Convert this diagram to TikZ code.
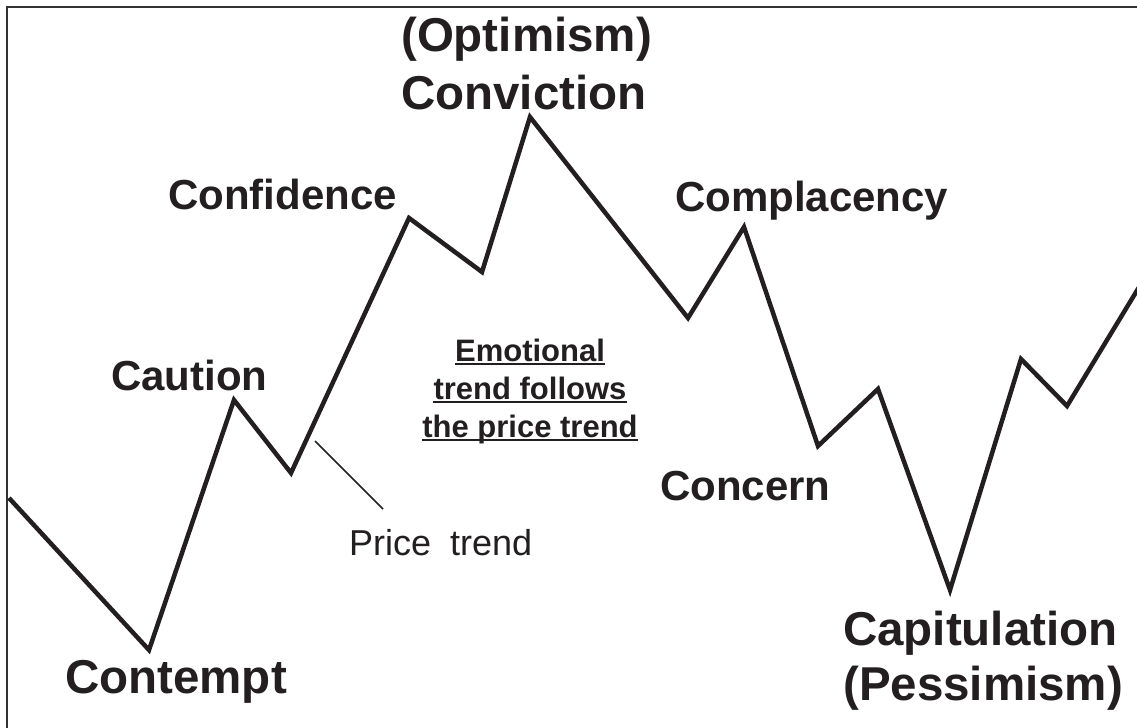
\documentclass[tikz,border=0pt]{standalone}
\usepackage{fontspec}
\setmainfont{Liberation Sans}
\definecolor{ink}{HTML}{231F20}
\definecolor{framegray}{HTML}{333333}
\begin{document}
\begin{tikzpicture}[x=1bp,y=-1bp,
  lblbig/.style={font=\fontsize{47.5bp}{55bp}\selectfont\bfseries, text=ink, inner sep=0pt, anchor=base west},
  lblmid/.style={font=\fontsize{42bp}{50bp}\selectfont\bfseries, text=ink, inner sep=0pt, anchor=base west},
  lblnote/.style={font=\fontsize{31bp}{38bp}\selectfont\bfseries, text=ink, inner sep=0pt, anchor=base},
  lblprice/.style={font=\fontsize{36bp}{42bp}\selectfont, text=ink, inner sep=0pt, anchor=base west},
  trendline/.style={draw=ink, line width=4.5bp, line join=miter, miter limit=10},
  pointer/.style={draw=ink, line width=1.6bp},
  underl/.style={draw=ink, line width=1.6bp},
  frameline/.style={draw=framegray, line width=2bp}]
\useasboundingbox (0,0) rectangle (1137,728);
\clip (0,0) rectangle (1137,728);
\fill[white] (0,0) rectangle (1137,728);
% frame (only top and left edges visible)
\draw[frameline] (7,740) -- (7,7) -- (1150,7);
% price path
\coordinate (p0) at (9,498);
\coordinate (p1) at (149,650);
\coordinate (p2) at (234,400);
\coordinate (p3) at (291,473);
\coordinate (p4) at (409,218);
\coordinate (p5) at (482,272);
\coordinate (p6) at (530,117);
\coordinate (p7) at (688,318);
\coordinate (p8) at (744,227);
\coordinate (p9) at (818,446);
\coordinate (p10) at (878,389);
\coordinate (p11) at (950,590);
\coordinate (p12) at (1021,359);
\coordinate (p13) at (1067,406);
\coordinate (p14) at (1147,274);
\draw[trendline] (p0) -- (p1) -- (p2) -- (p3) -- (p4) -- (p5) -- (p6) -- (p7) -- (p8) -- (p9) -- (p10) -- (p11) -- (p12) -- (p13) -- (p14);
% labels
\node[lblbig] (optim) at (401,52) {(Optimism)};
\node[lblbig] (convic) at (401,110) {Conviction};
\node[lblmid] (confid) at (168,210) {Confidence};
\node[lblmid] (complac) at (675,212) {Complacency};
\node[lblmid] (caution) at (111,390) {Caution};
\node[lblbig] (contempt) at (65,693) {Contempt};
\node[lblmid] (concern) at (660,500) {Concern};
\node[lblbig] (capit) at (843,645) {Capitulation};
\node[lblbig] (pessim) at (843,700) {(Pessimism)};
% note
\node[lblnote] (note1) at (530,361) {Emotional};
\node[lblnote] (note2) at (530,399) {trend follows};
\node[lblnote] (note3) at (530,437) {the price trend};
\draw[underl] ([yshift=-3bp]note1.base west) -- ([yshift=-3bp]note1.base east);
\draw[underl] ([yshift=-3bp]note2.base west) -- ([yshift=-3bp]note2.base east);
\draw[underl] ([yshift=-3bp]note3.base west) -- ([yshift=-3bp]note3.base east);
% price trend label and pointer
\node[lblprice] (price) at (349,555) {Price\hspace{9bp} trend};
\coordinate (ptip) at (315,441);
\coordinate (ptail) at (383,509);
\draw[pointer] (ptail) -- (ptip);
\end{tikzpicture}
\end{document}
